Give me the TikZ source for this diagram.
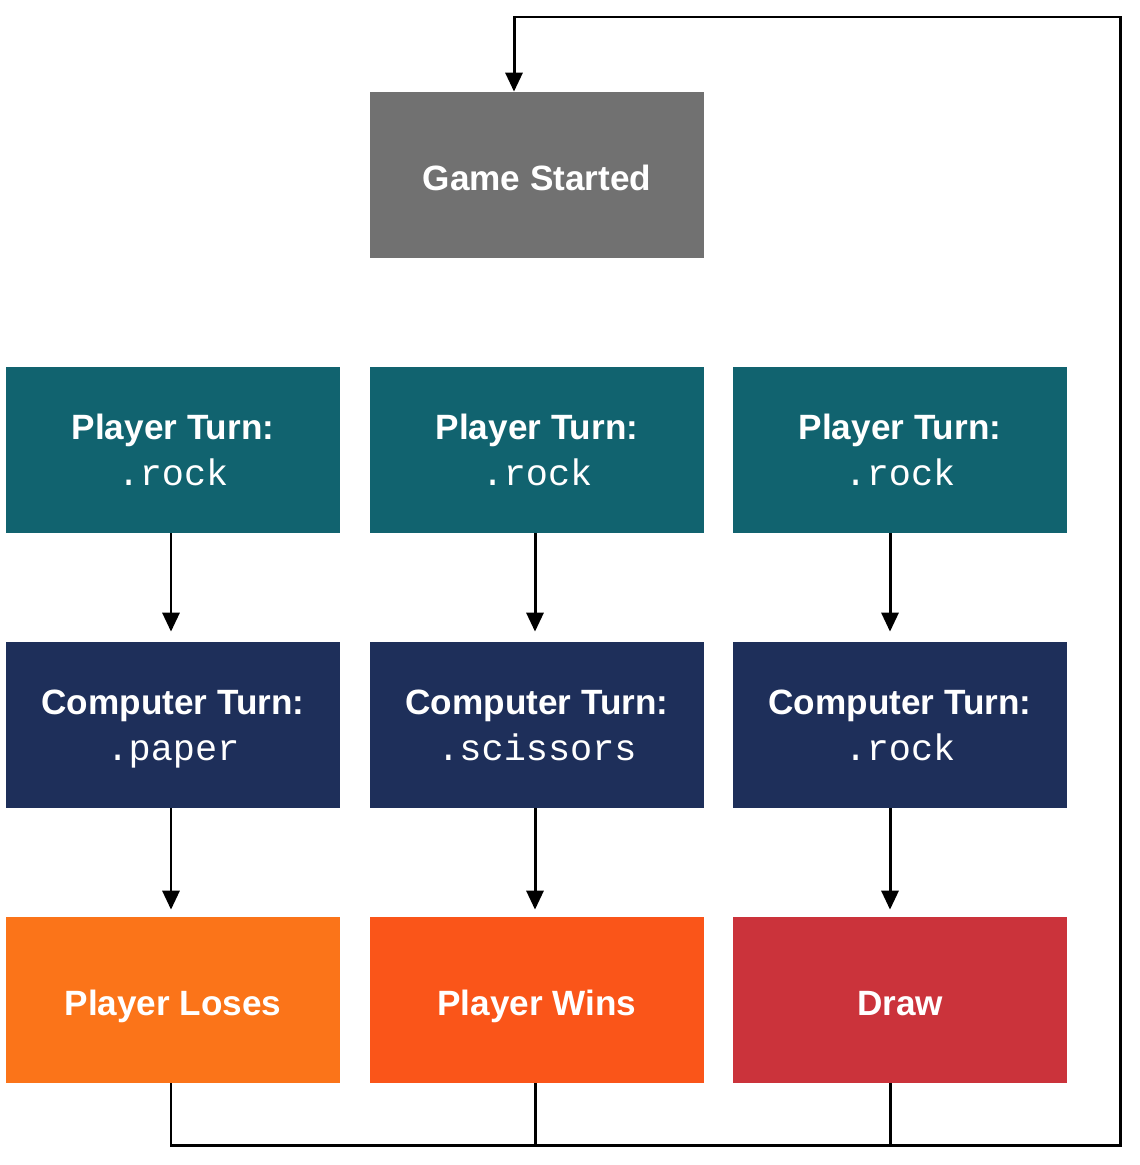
\documentclass[tikz,border=0pt]{standalone}
\usepackage{fontspec}
\setsansfont{Liberation Sans}
\setmonofont{Liberation Mono}
\usepackage{tikz}
\usetikzlibrary{arrows.meta, calc}

\definecolor{startgray}{HTML}{717171}
\definecolor{playerteal}{HTML}{11636F}
\definecolor{computernavy}{HTML}{1E2F5A}
\definecolor{loseorange}{HTML}{FB7419}
\definecolor{winorange}{HTML}{FA5519}
\definecolor{drawred}{HTML}{CB333B}

\newcommand{\movename}[1]{{\mdseries\ttfamily\fontsize{21}{26}\selectfont\raisebox{0pt}[\height][0pt]{#1}}}

\begin{document}
\begin{tikzpicture}[state/.style={rectangle, minimum width=6.68cm, minimum height=3.32cm, inner sep=0pt,
                                  text=white, align=center,
                                  font=\sffamily\bfseries\fontsize{20}{26}\selectfont},
                    single/.style={text height=18pt, text depth=0pt},
                    flow/.style={-{Triangle[length=3.8mm, width=3.4mm]}, line width=1.7pt, black},
                    loopline/.style={line width=1.7pt, black}]

    \useasboundingbox (0,0) rectangle (22.78,-23.30);

    \node[state, single, fill=startgray] (start) at (10.74,-3.5) {Game Started};

    \node[state, fill=playerteal] (p1) at (3.46,-9.0)  {Player Turn:\\\movename{.rock}};
    \node[state, fill=playerteal] (p2) at (10.74,-9.0) {Player Turn:\\\movename{.rock}};
    \node[state, fill=playerteal] (p3) at (18.0,-9.0)  {Player Turn:\\\movename{.rock}};

    \node[state, fill=computernavy] (c1) at (3.46,-14.5)  {Computer Turn:\\\movename{.paper}};
    \node[state, fill=computernavy] (c2) at (10.74,-14.5) {Computer Turn:\\\movename{.scissors}};
    \node[state, fill=computernavy] (c3) at (18.0,-14.5)  {Computer Turn:\\\movename{.rock}};

    \node[state, single, fill=loseorange] (r1) at (3.46,-20.0)  {Player Loses};
    \node[state, single, fill=winorange]  (r2) at (10.74,-20.0) {Player Wins};
    \node[state, single, fill=drawred]    (r3) at (18.0,-20.0)  {Draw};

    \draw[flow] ([xshift=-0.4mm]p1.south) -- ([xshift=-0.4mm, yshift=2mm]c1.north);
    \draw[flow] ([xshift=-0.4mm]p2.south) -- ([xshift=-0.4mm, yshift=2mm]c2.north);
    \draw[flow] ([xshift=-2mm]p3.south)   -- ([xshift=-2mm, yshift=2mm]c3.north);

    \draw[flow] ([xshift=-0.4mm]c1.south) -- ([xshift=-0.4mm, yshift=1.4mm]r1.north);
    \draw[flow] ([xshift=-0.4mm]c2.south) -- ([xshift=-0.4mm, yshift=1.4mm]r2.north);
    \draw[flow] ([xshift=-2mm]c3.south)   -- ([xshift=-2mm, yshift=1.4mm]r3.north);

    % back to the start
    \coordinate (corner) at (22.4,-22.9);
    \coordinate (top) at (22.4,-0.34);
    \draw[flow] ([xshift=-0.4mm]r1.south) |- (corner) -- (top) -| ([xshift=-4.6mm]start.north);
    \draw[loopline] ([xshift=-0.4mm]r2.south) -- ([xshift=-0.4mm]r2.south |- corner);
    \draw[loopline] ([xshift=-2mm]r3.south) -- ([xshift=-2mm]r3.south |- corner);
\end{tikzpicture}
\end{document}
